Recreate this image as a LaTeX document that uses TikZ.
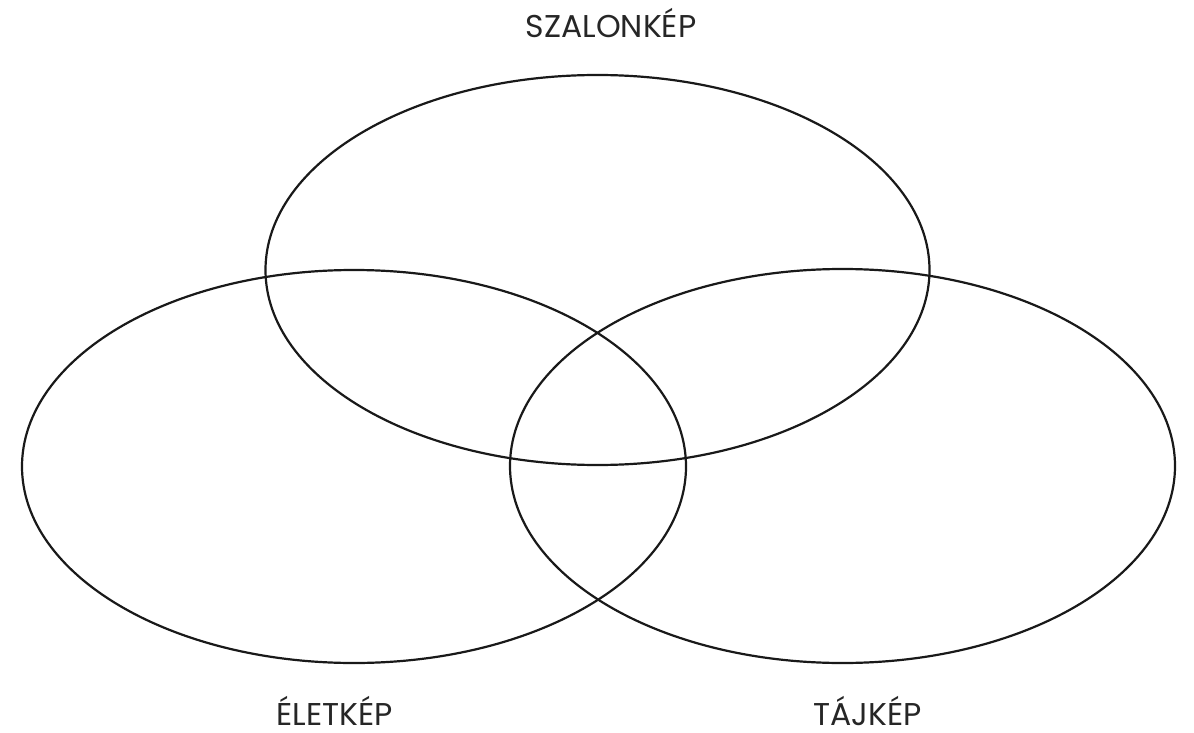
\documentclass[tikz,border=0pt]{standalone}
\usepackage{fontspec}
\setmainfont{Poppins}
\begin{document}
\begin{tikzpicture}[x=1pt,y=-1pt,
  venn/.style={draw=black!90,line width=2.2pt},
  lbl/.style={font=\fontsize{31.5}{36}\selectfont,text=black!85,inner sep=0pt,anchor=base,text depth=0pt}]
\useasboundingbox (0,0) rectangle (1194,733);
\fill[white] (0,0) rectangle (1194,733);
\draw[venn] (597.5,270) ellipse [x radius=332,y radius=195];
\draw[venn] (354,466.5) ellipse [x radius=332,y radius=196.5];
\draw[venn] (842.5,466) ellipse [x radius=332.5,y radius=197];
\node[lbl] (szalon) at (611,38) {SZALONKÉP};
\node[lbl] (elet) at (334.5,725) {ÉLETKÉP};
\node[lbl] (taj) at (867.5,725) {TÁJKÉP};
\end{tikzpicture}
\end{document}
